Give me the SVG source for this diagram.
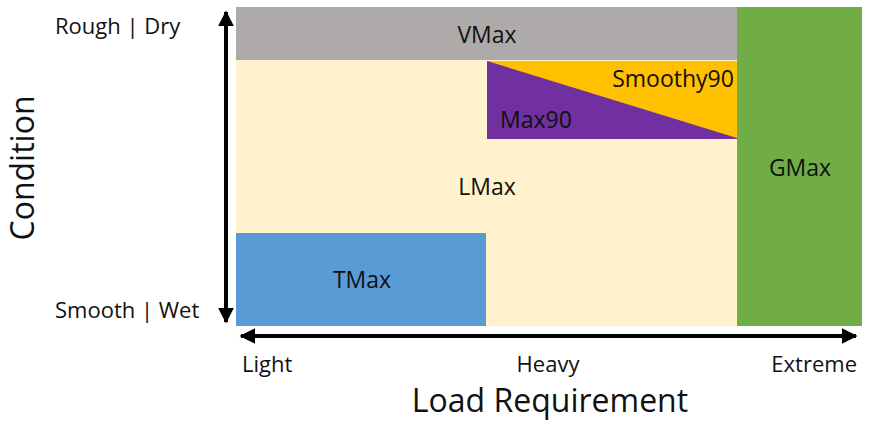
<svg xmlns="http://www.w3.org/2000/svg" width="880" height="427" viewBox="0 0 880 427">
<defs>
<marker id="ah" viewBox="0 0 10 10" refX="9" refY="5" markerWidth="4" markerHeight="4" orient="auto-start-reverse" markerUnits="strokeWidth">
<path d="M0,0 L10,5 L0,10 z" fill="#000"/>
</marker>
<style>
text{font-family:"Open Sans","Liberation Sans",sans-serif;fill:#111;}
.lab{font-size:22px;}
.in{font-size:23px;text-anchor:middle;}
.ax{font-size:32px;text-anchor:middle;}
.axis{stroke:#000;stroke-width:4;fill:none;}
</style>
</defs>
<rect width="880" height="427" fill="#fff"/>
<g id="LMax"><rect x="236" y="60" width="501" height="266" fill="#FFF2CC"/><text class="in" x="487" y="195">LMax</text></g>
<g id="VMax"><rect x="236" y="7" width="501" height="53" fill="#AEAAAA"/><text class="in" x="487" y="43">VMax</text></g>
<g id="Smoothy90"><rect x="487" y="61" width="250" height="78" fill="#FFC000"/><text class="in" x="673" y="87">Smoothy90</text></g>
<g id="Max90"><polygon points="487,61 737,138 737,139 487,139" fill="#7030A0"/><text class="in" x="536" y="128">Max90</text></g>
<g id="TMax"><rect x="236" y="233" width="250" height="93" fill="#5B9BD5"/><text class="in" x="362" y="288">TMax</text></g>
<g id="GMax"><rect x="737" y="7" width="125" height="319" fill="#70AD47"/><text class="in" x="800" y="176">GMax</text></g>
<g id="connectors">
<line class="axis" x1="226" y1="12" x2="226" y2="322" marker-start="url(#ah)" marker-end="url(#ah)"/>
<line class="axis" x1="241" y1="336" x2="856" y2="336" marker-start="url(#ah)" marker-end="url(#ah)"/>
</g>
<g id="labels">
<text class="lab" x="55" y="34">Rough | Dry</text>
<text class="lab" x="55" y="318">Smooth | Wet</text>
<text class="lab" x="242" y="372">Light</text>
<text class="lab" x="548" y="372" text-anchor="middle">Heavy</text>
<text class="lab" x="857" y="372" text-anchor="end">Extreme</text>
<text class="ax" x="550" y="412">Load Requirement</text>
<text class="ax" transform="translate(34,168) rotate(-90)">Condition</text>
</g>
</svg>
